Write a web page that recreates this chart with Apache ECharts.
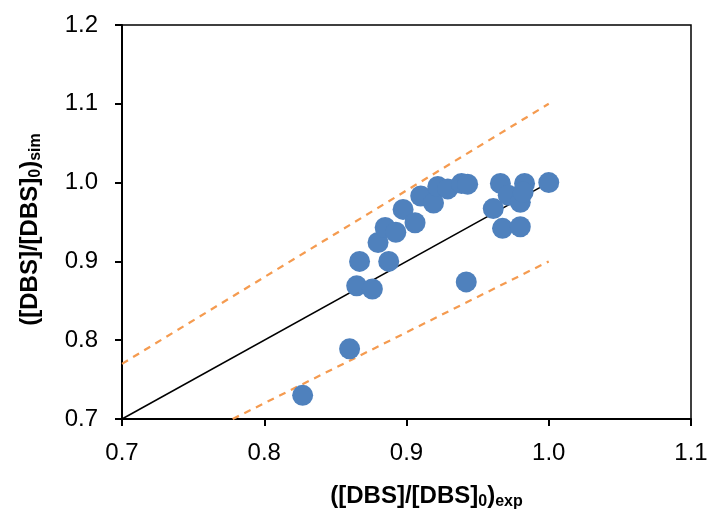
<!DOCTYPE html>
<html>
<head>
<meta charset="utf-8">
<script src="https://cdn.jsdelivr.net/npm/echarts@6/dist/echarts.min.js"></script>
<style>
  html, body { margin: 0; padding: 0; background: #fff; }
  #chart { width: 711px; height: 522px; }
</style>
</head>
<body>
<div id="chart"></div>
<script>
// measured vs simulated DBS ratios
var expValues = [0.827, 0.860, 0.865, 0.876, 0.867, 0.8875, 0.880, 0.885, 0.8925, 0.8976,
    0.906, 0.910, 0.919, 0.922, 0.929, 0.9387, 0.943, 0.942, 0.961, 0.966,
    0.9715, 0.980, 0.983, 0.982, 0.9675, 0.980, 1.000];
var simValues = [0.730, 0.789, 0.869, 0.865, 0.900, 0.900, 0.924, 0.943, 0.937, 0.966,
    0.949, 0.983, 0.974, 0.995, 0.992, 0.999, 0.998, 0.874, 0.967, 0.999,
    0.984, 0.975, 0.999, 0.988, 0.942, 0.944, 1.000];

// 1:1 line and +/-10 % bounds
var parityLine = [[0.7, 0.7], [1.0, 1.0]];
var upperBound = [[0.7, 0.77], [1.0, 1.1]];
var lowerBound = [[0.7778, 0.7], [1.0, 0.9]];

var chart = echarts.init(document.getElementById('chart'));

var titleRich = {
    sub: {
        fontSize: 16,
        fontWeight: 'bold',
        fontFamily: 'Liberation Sans',
        color: '#000',
        padding: [12, 0, 0, 0]
    }
};

var option = {
    animation: false,
    grid: {
        left: 122,
        right: 20,
        top: 25,
        bottom: 103,
        show: true,
        borderColor: '#000',
        borderWidth: 1.5
    },
    xAxis: {
        type: 'value',
        min: 0.7,
        max: 1.1,
        interval: 0.1,
        name: '([DBS]/[DBS]{sub|0}){sub|exp}',
        nameLocation: 'middle',
        nameGap: 63,
        nameTextStyle: {
            fontSize: 24,
            fontWeight: 'bold',
            fontFamily: 'Liberation Sans',
            color: '#000',
            padding: [0, 0, 0, 40],
            rich: titleRich
        },
        axisLine: { lineStyle: { color: '#000', width: 2 } },
        axisTick: { length: 7, lineStyle: { color: '#000', width: 2 } },
        axisLabel: {
            fontSize: 24,
            fontFamily: 'Liberation Sans',
            color: '#000',
            margin: 22,
            formatter: function (v) { return v.toFixed(1); }
        },
        splitLine: { show: false }
    },
    yAxis: {
        type: 'value',
        min: 0.7,
        max: 1.2,
        interval: 0.1,
        name: '([DBS]/[DBS]{sub|0}){sub|sim}',
        nameLocation: 'middle',
        nameRotate: 90,
        nameGap: 78,
        nameTextStyle: {
            fontSize: 24,
            fontWeight: 'bold',
            fontFamily: 'Liberation Sans',
            color: '#000',
            padding: [0, 15, 0, 0],
            rich: titleRich
        },
        axisLine: { lineStyle: { color: '#000', width: 2 } },
        axisTick: { length: 7, lineStyle: { color: '#000', width: 2 } },
        axisLabel: {
            fontSize: 24,
            fontFamily: 'Liberation Sans',
            color: '#000',
            margin: 24,
            formatter: function (v) { return v.toFixed(1); }
        },
        splitLine: { show: false }
    },
    series: [
        {
            type: 'line',
            data: upperBound,
            symbol: 'none',
            lineStyle: { color: '#F59B50', width: 2.25, type: [7, 6] },
            z: 1
        },
        {
            type: 'line',
            data: lowerBound,
            symbol: 'none',
            lineStyle: { color: '#F59B50', width: 2.25, type: [7, 6] },
            z: 1
        },
        {
            type: 'line',
            data: parityLine,
            symbol: 'none',
            lineStyle: { color: '#000', width: 1.5 },
            z: 1
        },
        {
            type: 'scatter',
            data: expValues.map(function (x, i) { return [x, simValues[i]]; }),
            symbolSize: 21,
            itemStyle: { color: '#4F81BD', opacity: 1 },
            z: 3
        }
    ]
};

chart.setOption(option);
</script>
</body>
</html>
